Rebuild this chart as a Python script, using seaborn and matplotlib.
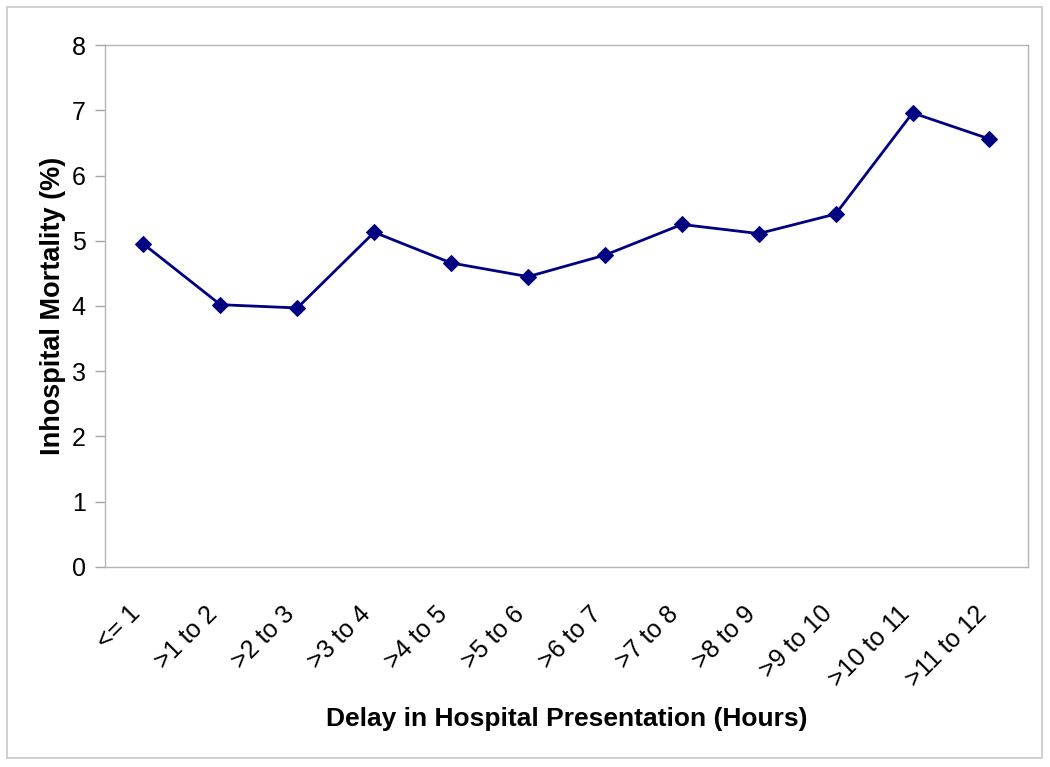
import matplotlib
matplotlib.use("Agg")
import matplotlib.pyplot as plt
import seaborn as sns
import numpy as np
from matplotlib.patches import Rectangle
from matplotlib.transforms import ScaledTranslation

# data
delay_labels = ['<= 1', '>1 to 2', '>2 to 3', '>3 to 4', '>4 to 5', '>5 to 6',
                '>6 to 7', '>7 to 8', '>8 to 9', '>9 to 10', '>10 to 11', '>11 to 12']
mortality = [4.95, 4.02, 3.97, 5.13, 4.66, 4.45, 4.78, 5.25, 5.11, 5.41, 6.96, 6.56]
y_ticks = [0, 1, 2, 3, 4, 5, 6, 7, 8]

sns.set_style("white")
plt.rcParams['font.family'] = ['Liberation Sans', 'DejaVu Sans']
plt.rcParams['text.color'] = 'black'
plt.rcParams['axes.labelcolor'] = 'black'

fig = plt.figure(figsize=(10.5, 7.67), dpi=100)
ax = fig.add_axes([0.1, 0.2608, 0.879, 0.6805])

pos = np.arange(len(delay_labels))
sns.lineplot(x=pos, y=mortality, ax=ax, color='#000080', linewidth=2,
             marker='D', markersize=8, markeredgecolor='#000080')

ax.set_xlim(-0.5, len(delay_labels) - 0.5)
ax.set_ylim(0, 8)
ax.set_yticks(y_ticks)

# labels at category centres, tick marks at category boundaries
ax.set_xticks(pos)
ax.set_xticklabels(delay_labels, rotation=45, ha='right', va='center',
                   rotation_mode='anchor')
ax.set_xticks(np.arange(-0.5, len(delay_labels), 1), minor=True)
ax.tick_params(axis='x', which='major', length=0, pad=31, labelsize=18,
               labelcolor='black')
ax.tick_params(axis='x', which='minor', length=7, color='#a6a6a6', width=1)
ax.tick_params(axis='y', length=7, color='#a6a6a6', width=1, labelsize=18,
               pad=7, labelcolor='black', left=True)

# nudge the rotated labels a little to the left, as in the original
for lbl in ax.get_xticklabels():
    lbl.set_transform(lbl.get_transform() + ScaledTranslation(-7 / 100, 0, fig.dpi_scale_trans))

for s in ax.spines.values():
    s.set_color('#b4b4b4')
    s.set_linewidth(1)

ax.set_xlabel('Delay in Hospital Presentation (Hours)', fontsize=19,
              fontweight='bold', labelpad=11)
ax.set_ylabel('Inhospital Mortality (%)', fontsize=19.5, fontweight='bold',
              labelpad=4)

# outer chart frame
fig.patches.append(Rectangle((7 / 1050, 9 / 767), 1035 / 1050, 751 / 767,
                             transform=fig.transFigure, fill=False,
                             edgecolor='#c8c8c8', linewidth=1.2))

fig.savefig('out.png', dpi=100)
